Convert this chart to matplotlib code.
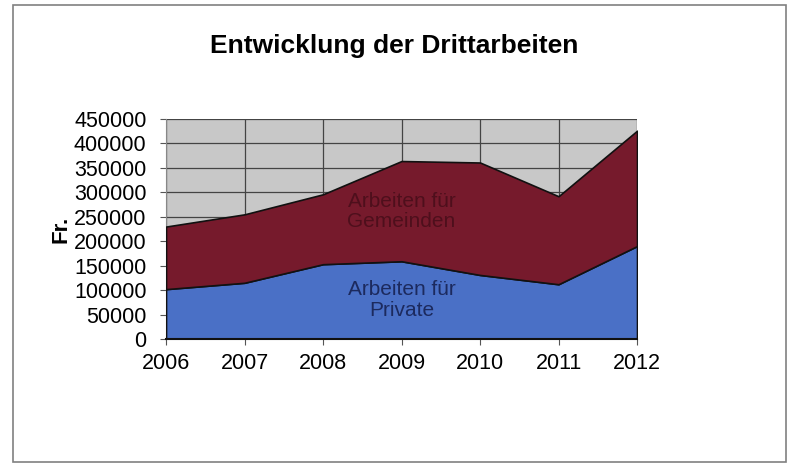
"""Gestapeltes Flächendiagramm: Entwicklung der Drittarbeiten"""
from matplotlib import pyplot as plt
from matplotlib.patches import Rectangle

years = [2006, 2007, 2008, 2009, 2010, 2011, 2012]
privat = [102000, 115000, 153000, 159000, 131000, 112000, 190000]
gemeinden = [128000, 140000, 143000, 205000, 230000, 180000, 236000]

plt.rcParams['font.family'] = ['Liberation Sans', 'DejaVu Sans']

fig = plt.figure(figsize=(7.88, 4.63), dpi=100)
ax = fig.add_axes([0.2107, 0.2678, 0.5977, 0.4752])

# Rahmen um das ganze Diagramm
fig.patches.append(Rectangle((0.016, 0.003), 0.982, 0.987, transform=fig.transFigure,
                             fill=False, edgecolor='#808080', linewidth=1.2))

ax.set_facecolor('#c8c8c8')
ax.stackplot(years, privat, gemeinden, colors=['#4a70c6', '#761a2c'],
             edgecolor='#111111', linewidth=1.2, zorder=3)

ax.set_xlim(2006, 2012)
ax.set_ylim(0, 450000)
ax.set_yticks(range(0, 450001, 50000))
ax.set_xticks(years)
ax.grid(True, color='#444444', linewidth=0.9, zorder=1)
ax.set_axisbelow(True)

for s in ['top', 'right']:
    ax.spines[s].set_visible(False)
ax.spines['left'].set_color('#888888')
ax.spines['bottom'].set_color('#111111')
ax.spines['bottom'].set_linewidth(1.5)
ax.spines['bottom'].set_zorder(4)

ax.tick_params(axis='both', labelsize=15.5, length=4, color='#555555')
ax.tick_params(axis='x', pad=6)
ax.tick_params(axis='y', pad=10)

ax.set_ylabel("Fr.", fontsize=16, fontweight='bold', labelpad=2)
fig.text(0.5, 0.900, "Entwicklung der Drittarbeiten", ha='center', va='center',
         fontsize=19, fontweight='bold')

ax.text(2009.0, 261000, "Arbeiten für\nGemeinden", ha='center', va='center',
        fontsize=15, color='#4e0f1c', zorder=5, linespacing=1.1)
ax.text(2009.0, 80000, "Arbeiten für\nPrivate", ha='center', va='center',
        fontsize=15, color='#1c2a5e', zorder=5, linespacing=1.1)

fig.savefig("out.png", dpi=100)
